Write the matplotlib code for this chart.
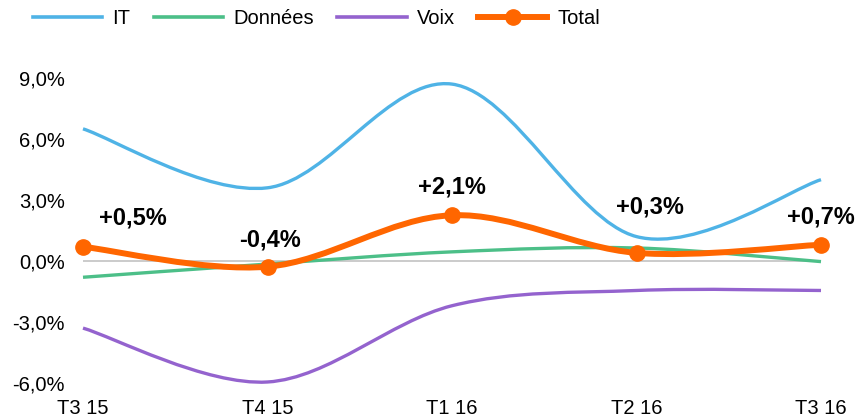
import matplotlib.pyplot as plt
from matplotlib.path import Path
from matplotlib.patches import PathPatch
from matplotlib.lines import Line2D
from matplotlib.ticker import FuncFormatter

plt.rcParams['font.family'] = ['Liberation Sans', 'DejaVu Sans']

quarters = ["T3 15", "T4 15", "T1 16", "T2 16", "T3 16"]
it = [6.5, 3.6, 8.7, 1.2, 4.0]
donnees = [-0.8, -0.15, 0.45, 0.64, -0.03]
voix = [-3.3, -5.95, -2.2, -1.45, -1.45]
total = [0.7, -0.28, 2.25, 0.4, 0.8]
total_labels = ["+0,5%", "-0,4%", "+2,1%", "+0,3%", "+0,7%"]

C_IT = "#4FB3E6"
C_DON = "#4CBF88"
C_VOIX = "#9463CE"
C_TOT = "#FF6600"


def smooth_path(ys):
    """Excel-like smoothed line: cubic Bezier segments through the points."""
    xs = list(range(len(ys)))
    pts = list(zip(xs, ys))
    n = len(pts)
    verts = [pts[0]]
    codes = [Path.MOVETO]
    for i in range(n - 1):
        p0 = pts[max(i - 1, 0)]
        p1 = pts[i]
        p2 = pts[i + 1]
        p3 = pts[min(i + 2, n - 1)]
        c1 = (p1[0] + (p2[0] - p0[0]) / 6, p1[1] + (p2[1] - p0[1]) / 6)
        c2 = (p2[0] - (p3[0] - p1[0]) / 6, p2[1] - (p3[1] - p1[1]) / 6)
        verts += [c1, c2, p2]
        codes += [Path.CURVE4] * 3
    return Path(verts, codes)


fig = plt.figure(figsize=(8.59, 4.17), dpi=100)
ax = fig.add_axes([83 / 859, 34 / 417, 738 / 859, 305 / 417])
ax.set_xlim(0, len(quarters) - 1)
ax.set_ylim(-6, 9)

ax.axhline(0, color="#BDBDBD", lw=1.1, zorder=1)

for ys, col, lw in [(it, C_IT, 2.4), (donnees, C_DON, 2.4), (voix, C_VOIX, 2.4), (total, C_TOT, 4.3)]:
    patch = PathPatch(smooth_path(ys), fill=False, edgecolor=col, lw=lw,
                      capstyle="butt", joinstyle="round", clip_on=False, zorder=3)
    ax.add_patch(patch)

ax.plot(range(len(total)), total, "o", color=C_TOT, ms=11, clip_on=False, zorder=4)

offsets = [(36, 21), (1.5, 19.5), (0, 20), (10, 33), (0, 20)]
for i, (lab, off) in enumerate(zip(total_labels, offsets)):
    ax.annotate(lab, (i, total[i]), xytext=off, textcoords="offset points",
                ha="center", va="center", fontsize=17, fontweight="bold", color="black")

ax.set_xticks(range(len(quarters)))
ax.set_xticklabels(quarters)
ax.set_yticks([-6, -3, 0, 3, 6, 9])
ax.yaxis.set_major_formatter(FuncFormatter(lambda v, p: f"{v:.1f}%".replace(".", ",")))
ax.tick_params(axis="both", length=0, labelsize=14.5, colors="black")
ax.tick_params(axis="x", pad=11.5)
ax.tick_params(axis="y", pad=13)
for s in ax.spines.values():
    s.set_visible(False)

handles = [
    Line2D([], [], color=C_IT, lw=2.6),
    Line2D([], [], color=C_DON, lw=2.6),
    Line2D([], [], color=C_VOIX, lw=2.6),
    Line2D([], [], color=C_TOT, lw=4.3, marker="o", ms=11),
]
fig.legend(handles, ["IT", "Données", "Voix", "Total"], ncol=4, frameon=False,
           loc="center left", bbox_to_anchor=(33 / 859, 1 - 19 / 417),
           borderpad=0, borderaxespad=0, handlelength=3.45, handletextpad=0.5,
           columnspacing=1.15, fontsize=14.5)

fig.savefig("out.png", dpi=100)
